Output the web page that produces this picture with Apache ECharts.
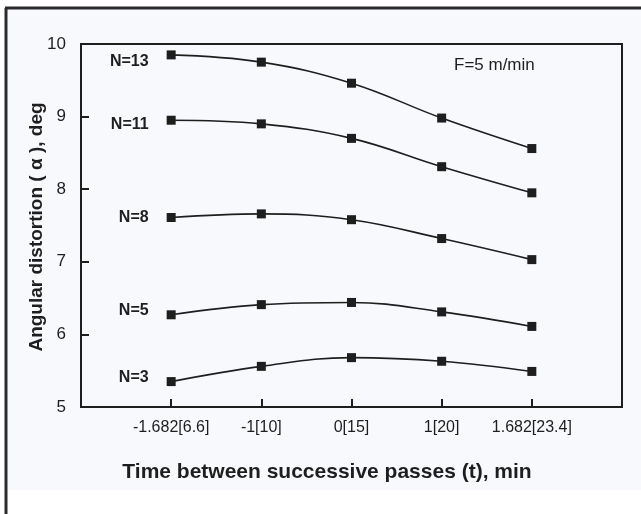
<!DOCTYPE html>
<html><head><meta charset="utf-8">
<script src="https://cdn.jsdelivr.net/npm/echarts@6/dist/echarts.min.js"></script>
<style>html,body{margin:0;padding:0;background:#fff}#c{width:641px;height:514px}</style>
</head><body><div id="c"></div>
<script>
const categories = ["-1.682[6.6]", "-1[10]", "0[15]", "1[20]", "1.682[23.4]"];
const seriesNames = ["N=13", "N=11", "N=8", "N=5", "N=3"];
const n13 = [9.85, 9.75, 9.46, 8.98, 8.56];
const n11 = [8.95, 8.90, 8.70, 8.31, 7.95];
const n8 = [7.61, 7.66, 7.58, 7.32, 7.03];
const n5 = [6.27, 6.41, 6.44, 6.31, 6.11];
const n3 = [5.35, 5.56, 5.68, 5.63, 5.49];
const yTicks = [5, 6, 7, 8, 9, 10];

const ink = '#1e1e1e';
const font = 'Liberation Sans, Arial, sans-serif';
const allSeries = [n13, n11, n8, n5, n3];
const labelShift = [7, 4, 0, -4, -4];

const chart = echarts.init(document.getElementById('c'), null, {renderer: 'canvas'});
chart.setOption({
  animation: false,
  backgroundColor: '#ffffff',
  graphic: [
    {type: 'rect', z: -10, shape: {x: 8, y: 9, width: 633, height: 481}, style: {fill: '#f8f9fc'}},
    {type: 'line', z: 10, shape: {x1: 5, y1: 8, x2: 641, y2: 8}, style: {stroke: '#2a2a2a', lineWidth: 3}},
    {type: 'line', z: 10, shape: {x1: 6, y1: 8, x2: 6, y2: 514}, style: {stroke: '#2a2a2a', lineWidth: 3}},
    {type: 'text', left: 454, top: 57, style: {text: 'F=5 m/min', fill: ink, font: '17px ' + font}},
    {type: 'text', x: 327, y: 472, style: {text: 'Time between successive passes (t), min', fill: ink,
      font: 'bold 21px ' + font, align: 'center', verticalAlign: 'middle'}},
    {type: 'text', x: 37, y: 227, rotation: Math.PI / 2, style: {text: 'Angular distortion ( α ), deg', fill: ink,
      font: 'bold 19px ' + font, align: 'center', verticalAlign: 'middle'}}
  ],
  grid: {left: 81, right: 19, top: 44, bottom: 107, show: true, borderColor: ink, borderWidth: 2, backgroundColor: 'transparent'},
  xAxis: {
    type: 'value', min: -1, max: 5, interval: 1,
    axisLine: {lineStyle: {color: ink, width: 2}},
    axisTick: {inside: true, length: 8, lineStyle: {color: ink, width: 2}},
    splitLine: {show: false},
    axisLabel: {
      color: ink, fontSize: 16, fontFamily: font, margin: 13,
      formatter: v => (v >= 0 && v < categories.length) ? categories[v] : ''
    }
  },
  yAxis: {
    type: 'value', min: yTicks[0], max: yTicks[yTicks.length - 1], interval: 1,
    axisLine: {onZero: false, lineStyle: {color: ink, width: 2}},
    axisTick: {inside: true, length: 8, lineStyle: {color: ink, width: 2}},
    splitLine: {show: false},
    axisLabel: {color: ink, fontSize: 17, fontFamily: font, margin: 15}
  },
  series: allSeries.map((vals, si) => ({
    type: 'line',
    name: seriesNames[si],
    smooth: 0.4,
    symbol: 'rect',
    symbolSize: 9,
    lineStyle: {color: ink, width: 1.6},
    itemStyle: {color: ink},
    data: vals.map((v, i) => i === 0 ? {
      value: [i, v],
      label: {show: true, position: 'left', distance: 18, offset: [0, labelShift[si]], formatter: seriesNames[si],
              color: ink, fontSize: 16, fontWeight: 'bold', fontFamily: font}
    } : [i, v])
  }))
});
</script></body></html>
